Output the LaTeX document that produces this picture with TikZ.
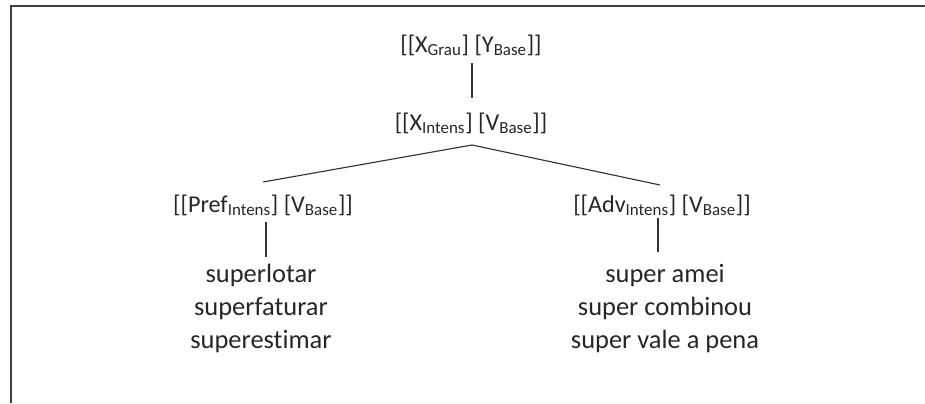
\documentclass[tikz,border=0pt]{standalone}
\usepackage{fontspec}
\setmainfont[Ligatures=NoCommon]{Carlito}
\usepackage{tikz}
\usetikzlibrary{positioning,calc}

\begin{document}
\begin{tikzpicture}[every node/.style={inner sep=0pt,anchor=base,text=black!85},
  lbl/.style={font=\fontsize{17.2pt}{21pt}\selectfont},
  words/.style={font=\fontsize{18.8pt}{23.5pt}\selectfont},
  branch/.style={draw=black!80,line width=0.8pt}]
  \useasboundingbox (0,0) rectangle (23.125,-10.075);
  \draw[draw=black!75,line width=1.4pt] (0.275,-10.075) -- (0.275,-0.16) -- (23.125,-0.16);
  \node[lbl] (n00) at (11.775,-1.3) {[[X\textsubscript{Grau}] [Y\textsubscript{Base}]]};
  \node[lbl] (n01) at (11.775,-3.25) {[[X\textsubscript{Intens}] [V\textsubscript{Base}]]};
  \node[lbl] (n10) at (6.575,-5.3) {[[Pref\textsubscript{Intens}] [V\textsubscript{Base}]]};
  \node[words] (n11) at (6.525,-7.05) {\begin{tabular}[t]{@{}c@{}}superlotar\\superfaturar\\superestimar\end{tabular}};
  \node[lbl] (n20) at (16.55,-5.3) {[[Adv\textsubscript{Intens}] [V\textsubscript{Base}]]};
  \node[words] (n21) at (16.625,-7.05) {\begin{tabular}[t]{@{}c@{}}super amei\\super combinou\\super vale a pena\end{tabular}};
  \path[branch] ([xshift=0.025cm,yshift=-0.275cm]n00.base) edge ([xshift=0.025cm,yshift=0.8cm]n01.base)
        ([xshift=0.025cm,yshift=-0.375cm]n01.base) edge ([yshift=0.75cm]n10.base)
        ([xshift=0.025cm,yshift=-0.375cm]n01.base) edge ([xshift=-0.05cm,yshift=0.675cm]n20.base)
        ([xshift=0.075cm,yshift=-0.25cm]n10.base) edge ([xshift=0.125cm,yshift=0.625cm]n11.base)
        ([xshift=-0.1cm,yshift=-0.15cm]n20.base) edge ([xshift=-0.175cm,yshift=0.75cm]n21.base);
\end{tikzpicture}
\end{document}
